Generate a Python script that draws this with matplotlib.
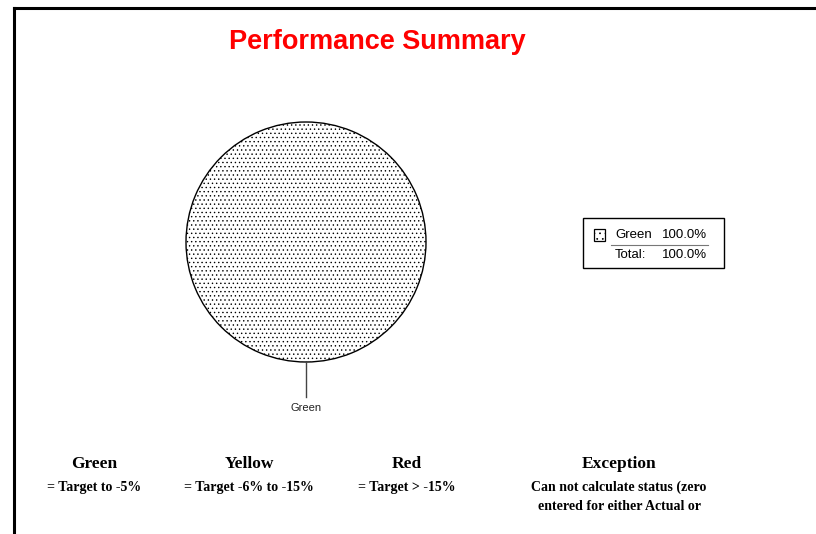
import matplotlib.pyplot as plt
import matplotlib.patches as mpatches
import numpy as np

plt.rcParams['hatch.linewidth'] = 0.5
plt.rcParams['hatch.color'] = '#333333'

# Data
labels = ['Green']
values = [100.0]
total_label = 'Total:'
status_names = ['Green', 'Yellow', 'Red', 'Exception']
status_desc = ['= Target to -5%', '= Target -6% to -15%', '= Target > -15%',
               'Can not calculate status (zero\nentered for either Actual or']

W, H = 816, 534
fig = plt.figure(figsize=(W / 100, H / 100), dpi=100)

def fx(px):
    return px / W

def fy(py):
    return 1 - py / H

# frame (top and left lines only visible)
bg = fig.add_axes([0, 0, 1, 1])
bg.set_xlim(0, W)
bg.set_ylim(H, 0)
bg.axis('off')
bg.plot([14, W + 5], [8, 8], color='black', lw=2.2, solid_capstyle='projecting')
bg.plot([14, 14], [8, H + 5], color='black', lw=2.2, solid_capstyle='projecting')

fig.text(fx(377), fy(42), 'Performance Summary', color='#ff0000', fontsize=19.5,
         fontweight='bold', family='Liberation Sans', ha='center', va='center')

# pie
cx, cy, r = 306, 242, 120
ax = fig.add_axes([fx(cx - r), fy(cy + r), 2 * r / W, 2 * r / H])
wedges, _ = ax.pie(values, startangle=90, counterclock=False,
                   colors=['white'], wedgeprops=dict(edgecolor='black', linewidth=1.0, hatch='....'))
ax.set_xlim(-1, 1)
ax.set_ylim(-1, 1)
ax.axis('off')
for w, lab in zip(wedges, labels):
    ang = np.deg2rad((w.theta1 + w.theta2) / 2)
    ax.plot([np.cos(ang), 1.29 * np.cos(ang)], [np.sin(ang), 1.29 * np.sin(ang)],
            color='#444444', lw=1.0, clip_on=False)
    ax.text(1.38 * np.cos(ang), 1.38 * np.sin(ang), lab, ha='center', va='center',
            fontsize=8, family='Liberation Sans', color='#222222', clip_on=False)

# legend box
bg.add_patch(mpatches.Rectangle((583, 218), 141, 50, fill=False, edgecolor='black', lw=1.0))
bg.add_patch(mpatches.Rectangle((594, 229), 11, 12, facecolor='white', edgecolor='black',
                                lw=0.9, hatch='...'))
row_y = 235
for lab, v in zip(labels, values):
    bg.text(615, row_y, lab, fontsize=9.5, family='Liberation Sans', va='center', ha='left')
    bg.text(707, row_y, f'{v:.1f}%', fontsize=9.5, family='Liberation Sans', va='center', ha='right')
    row_y += 20
bg.plot([611, 708], [245, 245], color='#777777', lw=0.8)
bg.text(615, 255, total_label, fontsize=9.5, family='Liberation Sans', va='center', ha='left')
bg.text(707, 255, f'{sum(values):.1f}%', fontsize=9.5, family='Liberation Sans', va='center', ha='right')

# status key at bottom
xs = [94, 249, 407, 619]
for x, name, desc in zip(xs, status_names, status_desc):
    bg.text(x, 464, name, fontsize=12.5, fontweight='bold', family='Liberation Serif',
            ha='center', va='center')
    for i, line in enumerate(desc.split('\n')):
        bg.text(x, 487 + i * 19, line, fontsize=10, fontweight='bold', family='Liberation Serif',
                ha='center', va='center')

fig.savefig('out.png', dpi=100)
